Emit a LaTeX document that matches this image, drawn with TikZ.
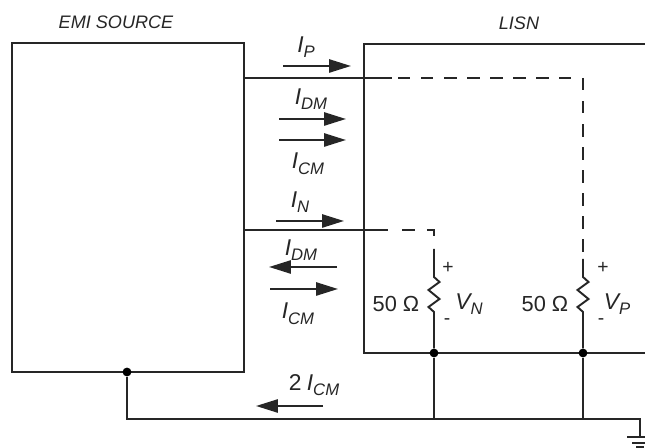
\documentclass[tikz,border=0pt]{standalone}
\usepackage{fontspec}
\setmainfont{Liberation Sans}
\usetikzlibrary{arrows.meta}

\newcommand{\cur}[2]{\textit{\fontsize{13}{14}\selectfont #1\raisebox{-3.2pt}{\fontsize{9.5}{10}\selectfont #2}}}

\tikzset{
    wire/.style = {line width=1.1pt, black!85},
    frame/.style = {line width=1.3pt, black!85},
    broken/.style = {line width=1.1pt, black!85, dash pattern=on 7.1pt off 6pt},
    brokenb/.style = {line width=1.1pt, black!85, dash pattern=on 7.4pt off 6.8pt},
    current/.style = {line width=1.2pt, black!85, -{Triangle[length=12.5pt,width=7.5pt]}},
    lbl/.style = {black!85, inner sep=0pt, font=\fontsize{11}{13}\selectfont},
    title/.style = {black!85, inner sep=0pt, font=\fontsize{10.3}{12}\selectfont\itshape},
    dot/.style = {circle, fill=black, inner sep=0pt, minimum size=5pt}
}

\begin{document}
\begin{tikzpicture}[x=0.02cm, y=-0.02cm]
    \useasboundingbox (0,0) rectangle (645,448);

    % Boxes
    \draw[frame] (12,43) rectangle (244,372);
    \draw[frame] (645,44) -- (364,44) -- (364,353) -- (645,353);
    \node[title] (source) at (116,22) {EMI SOURCE};
    \node[title] (lisn) at (519,23) {LISN};

    % Junctions and corners
    \node[dot] (Jsrc) at (127,372) {};
    \node[dot] (JN) at (434,353) {};
    \node[dot] (JP) at (583,353) {};
    \coordinate (Pstart) at (244,78);
    \coordinate (Pend) at (392,78);
    \coordinate (Pdash) at (398,78);
    \coordinate (Pstop) at (571,78);
    \coordinate (Pcorner) at (583,78);
    \coordinate (Nstart) at (244,230);
    \coordinate (Nend) at (388,230);
    \coordinate (Ndash) at (402,230);
    \coordinate (Ncorner) at (434,230);
    \coordinate (Nstop) at (434,236);
    \coordinate (RNtop) at (434,249);
    \coordinate (RPtop) at (583,259);
    \coordinate (Gcorner) at (127,419);
    \coordinate (Gright) at (640,419);
    \coordinate (Gnd) at (640,437);
    \coordinate (GNb) at (434,419);
    \coordinate (GPb) at (583,419);

    % Line wire (solid part, then dashed inside the LISN)
    \draw[wire] (Pstart) -- (Pend);
    \draw[broken] (Pdash) -- (Pstop);
    \draw[broken] (Pcorner) -- (RPtop);
    % Neutral wire
    \draw[wire] (Nstart) -- (Nend);
    \draw[brokenb] (Ndash) -- (Ncorner) -- (Nstop);

    % 50 ohm resistors
    \foreach \jn/\tp/\xr in {JN/RNtop/434, JP/RPtop/583}{
        \draw[wire] (\tp) -- (\xr,277) -- ++(5.5,5) -- ++(-11,8) -- ++(11,9)
            -- ++(-11,8) -- ++(5.5,5) -- (\jn);
    }

    % Ground return
    \draw[wire] (Jsrc) -- (Gcorner) -- (Gright) -- (Gnd);
    \draw[wire] (JN) -- (GNb);
    \draw[wire] (JP) -- (GPb);
    \draw[wire] (Gnd) ++(-13,0) -- ++(26,0);
    \draw[wire] (Gnd) ++(-8,6) -- ++(16,0);
    \draw[wire] (Gnd) ++(-4,10) -- ++(8,0);

    % Current arrows
    \coordinate (aP) at (283,66);      \coordinate (bP) at (351,66);
    \coordinate (aD1) at (279,119);    \coordinate (bD1) at (346,119);
    \coordinate (aC1) at (279,140);    \coordinate (bC1) at (346,140);
    \coordinate (aN) at (276,221);     \coordinate (bN) at (344,221);
    \coordinate (aD2) at (337,267);    \coordinate (bD2) at (269,267);
    \coordinate (aC2) at (270,289);    \coordinate (bC2) at (338,289);
    \coordinate (aG) at (323,406);     \coordinate (bG) at (256,406);
    \foreach \a/\b in {aP/bP, aD1/bD1, aC1/bC1, aN/bN, aD2/bD2, aC2/bC2, aG/bG}{
        \draw[current] (\a) -- (\b);
    }

    % Labels
    \node[lbl] (IP) at (306,47) {\cur{I}{P}};
    \node[lbl] (IDMa) at (311,99) {\cur{I}{DM}};
    \node[lbl] (ICMa) at (308,164) {\cur{I}{CM}};
    \node[lbl] (IN) at (300,202) {\cur{I}{N}};
    \node[lbl] (IDMb) at (301,250) {\cur{I}{DM}};
    \node[lbl] (ICMb) at (298,314) {\cur{I}{CM}};
    \node[lbl] (IG) at (314,385) {{\fontsize{13}{14}\selectfont 2} \cur{I}{CM}};
    \node[lbl] (RN) at (396,304) {\fontsize{12.4}{14}\selectfont 50 Ω};
    \node[lbl] (RP) at (545,304) {\fontsize{12.4}{14}\selectfont 50 Ω};
    \node[lbl] (VN) at (469,304) {\cur{V}{N}};
    \node[lbl] (VP) at (617,304) {\cur{V}{P}};
    \node[lbl] (plusN) at (448,268) {+};
    \node[lbl] (minusN) at (447,322) {-};
    \node[lbl] (plusP) at (603,268) {+};
    \node[lbl] (minusP) at (601,322) {-};
\end{tikzpicture}
\end{document}
